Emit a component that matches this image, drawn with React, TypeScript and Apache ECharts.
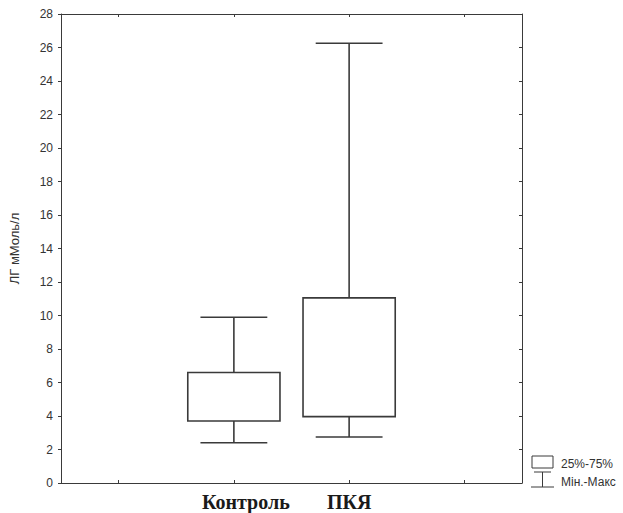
import React, { useEffect, useRef } from "react";
import * as echarts from "echarts";

const categories = ["", "Контроль", "ПКЯ", ""];
// [categoryIndex, min, q1, q3, max]
const boxData = [
  [1, 2.4, 3.7, 6.6, 9.9],
  [2, 2.75, 3.96, 11.05, 26.25],
];
const yTicks = { min: 0, max: 28, interval: 2 };
const yName = "ЛГ мМоль/л";
const legendLabels = ["25%-75%", "Мін.-Макс"];

const lineColor = "#3a3a3a";

export default function App() {
  const ref = useRef<HTMLDivElement>(null);
  useEffect(() => {
    if (!ref.current) return;
    const chart = echarts.init(ref.current, undefined, { renderer: "svg" });
    const axisLine = { show: true, onZero: false, lineStyle: { color: lineColor, width: 1 } };
    chart.setOption({
      animation: false,
      backgroundColor: "#ffffff",
      grid: { left: 58, top: 14, width: 464, height: 469 },
      xAxis: [
        {
          type: "category",
          data: categories,
          position: "bottom",
          boundaryGap: true,
          axisLine,
          axisTick: { show: true, inside: true, alignWithLabel: true, length: 3, lineStyle: { color: lineColor } },
          axisLabel: {
            interval: 0,
            margin: 9,
            fontFamily: "Liberation Serif",
            fontWeight: "bold",
            fontSize: 20,
            color: "#1a1a1a",
            formatter: (v: string) => (v === "Контроль" ? "{a|" + v + "}" : v),
            rich: {
              a: { fontFamily: "Liberation Serif", fontWeight: "bold", fontSize: 20, color: "#1a1a1a", padding: [0, 0, 0, 24] },
            },
          },
          splitLine: { show: false },
        },
        {
          type: "category",
          data: categories,
          position: "top",
          boundaryGap: true,
          axisLine,
          axisTick: { show: true, inside: true, alignWithLabel: true, length: 3, lineStyle: { color: lineColor } },
          axisLabel: { show: false },
          splitLine: { show: false },
        },
      ],
      yAxis: [
        {
          type: "value",
          position: "left",
          min: yTicks.min,
          max: yTicks.max,
          interval: yTicks.interval,
          name: yName,
          nameLocation: "middle",
          nameRotate: 90,
          nameGap: 40,
          nameTextStyle: { fontFamily: "Liberation Sans", fontSize: 13, color: "#333" },
          axisLine,
          axisTick: { show: true, inside: false, length: 3, lineStyle: { color: lineColor } },
          axisLabel: { margin: 8, fontFamily: "Liberation Sans", fontSize: 12, color: "#333" },
          splitLine: { show: false },
        },
        {
          type: "value",
          position: "right",
          min: yTicks.min,
          max: yTicks.max,
          interval: yTicks.interval,
          axisLine,
          axisTick: { show: true, inside: true, length: 3, lineStyle: { color: lineColor } },
          axisLabel: { show: false },
          splitLine: { show: false },
        },
      ],
      series: [
        {
          type: "custom",
          xAxisIndex: 0,
          yAxisIndex: 0,
          data: boxData,
          encode: { x: 0, y: [1, 2, 3, 4] },
          renderItem: (params: any, api: any) => {
            const idx = api.value(0);
            const band = api.size([1, 0])[0];
            const pMin = api.coord([idx, api.value(1)]);
            const pQ1 = api.coord([idx, api.value(2)]);
            const pQ3 = api.coord([idx, api.value(3)]);
            const pMax = api.coord([idx, api.value(4)]);
            const cx = pMin[0];
            const hb = band * 0.4;
            const hc = band * 0.29;
            const style = { stroke: lineColor, lineWidth: 1.6, fill: "none" };
            return {
              type: "group",
              children: [
                { type: "rect", shape: { x: cx - hb, y: pQ3[1], width: hb * 2, height: pQ1[1] - pQ3[1] }, style: { stroke: lineColor, lineWidth: 1.6, fill: "#fff" } },
                { type: "line", shape: { x1: cx, y1: pQ3[1], x2: cx, y2: pMax[1] }, style },
                { type: "line", shape: { x1: cx, y1: pQ1[1], x2: cx, y2: pMin[1] }, style },
                { type: "line", shape: { x1: cx - hc, y1: pMax[1], x2: cx + hc, y2: pMax[1] }, style },
                { type: "line", shape: { x1: cx - hc, y1: pMin[1], x2: cx + hc, y2: pMin[1] }, style },
              ],
            };
          },
        },
      ],
      graphic: [
        { type: "rect", shape: { x: 532, y: 456, width: 21, height: 12 }, style: { stroke: lineColor, lineWidth: 1, fill: "#fff" } },
        { type: "line", shape: { x1: 534, y1: 472, x2: 551, y2: 472 }, style: { stroke: lineColor, lineWidth: 1 } },
        { type: "line", shape: { x1: 542.5, y1: 472, x2: 542.5, y2: 487 }, style: { stroke: lineColor, lineWidth: 1 } },
        { type: "line", shape: { x1: 531, y1: 487, x2: 554, y2: 487 }, style: { stroke: lineColor, lineWidth: 1 } },
        { type: "text", x: 561, y: 464, style: { text: legendLabels[0], fontFamily: "Liberation Sans", fontSize: 12, fill: "#333", verticalAlign: "middle" } },
        { type: "text", x: 561, y: 482, style: { text: legendLabels[1], fontFamily: "Liberation Sans", fontSize: 12, fill: "#333", verticalAlign: "middle" } },
      ],
    });
    return () => chart.dispose();
  }, []);
  return <div ref={ref} style={{ position: "absolute", left: 0, top: 0, width: 623, height: 513 }} />;
}
